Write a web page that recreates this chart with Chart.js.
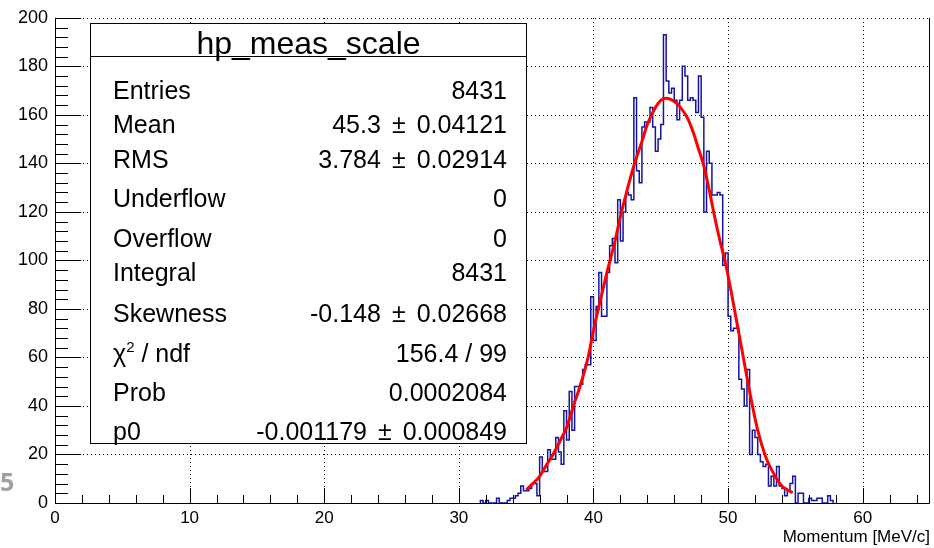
<!DOCTYPE html>
<html lang="en">
<head>
<meta charset="UTF-8">
<title>hp_meas_scale</title>
<script src="https://cdn.jsdelivr.net/npm/chart.js@4.4.1/dist/chart.umd.min.js"></script>
<style>
    * { margin: 0; padding: 0; box-sizing: border-box; }
    body { background: #fff; width: 934px; height: 548px; overflow: hidden; font-family: 'Liberation Sans', Arial, sans-serif; color: #000; }
    .wrap { position: relative; width: 934px; height: 548px; }
    canvas { position: absolute; left: 0; top: 0; }
    .stats { position: absolute; left: 90px; top: 23px; width: 437px; height: 421px; border: 1px solid #000; background: #fff; font-size: 25px; }
    .stats .title { position: absolute; left: 0; right: 0; top: 0; height: 33px; border-bottom: 1px solid #000; text-align: center; font-size: 32px; line-height: 38px; }
    .stats .row { position: absolute; left: 22px; right: 19px; height: 30px; line-height: 30px; display: flex; justify-content: space-between; white-space: nowrap; }
    .stats .pm { margin: 0 11px; }
    .stats sup { font-size: 15px; vertical-align: 10px; line-height: 0; }
    .page-num { position: absolute; left: 0; top: 464px; font: bold 25px 'Open Sans', sans-serif; color: #a0a0a0; }
</style>
</head>
<body>
<div class="wrap">
    <canvas id="hist" width="934" height="548"></canvas>
    <div class="page-num">5</div>
    <div class="stats" id="stats">
        <div class="title">hp_meas_scale</div>
    </div>
</div>
<script>
    // histogram: 0.2 wide bins, first listed bin starts at 31.6
    const binStart = 31.6;
    const binWidth = 0.2;
    const counts = [
        1, 0, 1, 0, 0, 0, 2, 0, 0, 0,            // 31.6
        1, 2, 2, 3, 4, 7, 5, 5, 6, 8,            // 33.6
        8, 3, 19, 13, 13, 22, 18, 18, 27, 21,    // 35.6
        16, 38, 26, 46, 30, 48, 48, 49, 55, 57,  // 37.6
        57, 85, 67, 81, 95, 77, 77, 95, 106, 109,        // 39.6
        99, 125, 108, 120, 128, 127, 125, 167, 137, 132, // 41.6
        155, 157, 157, 163, 155, 145, 150, 156, 193, 174,// 43.6
        169, 171, 166, 158, 166, 180, 176, 166, 167, 166,// 45.6
        161, 176, 159, 120, 145, 140, 127, 127, 128, 127,// 47.6
        98, 103, 77, 71, 72, 72, 51, 47, 40, 55, // 49.6
        20, 30, 27, 20, 17, 15, 16, 7, 11, 7,    // 51.6
        15, 7, 6, 3, 5, 8, 11, 0, 4, 4,          // 53.6
        0, 0, 2, 1, 1, 2, 2, 0, 0, 3,            // 55.6
        1                                        // 57.6
    ];

    // fit curve
    const fitX = [35.0, 35.6, 36.0, 36.6, 37.0, 37.6, 38.0, 38.6, 39.0, 39.6, 40.0, 40.4, 41.0, 41.6,
                  42.0, 42.6, 43.0, 43.6, 44.0, 44.6, 45.0, 45.4, 46.0, 46.4, 47.0, 47.4, 47.8, 48.2,
                  48.6, 49.0, 49.4, 49.8, 50.2, 50.6, 51.0, 51.6, 52.2, 52.8, 53.4, 54.0, 54.4, 54.8];
    const fitY = [5.5, 8.5, 11, 16.5, 20, 26.5, 31, 41.5, 48, 60, 71, 81, 95, 108,
                  118, 131, 139, 149, 156, 163, 166, 166.8, 165.5, 163.5, 158.5, 153, 146, 139,
                  129, 118, 108, 99, 88, 76, 64, 46, 30, 19, 12, 7, 5.5, 4.2];

    const xGridValues = [10, 20, 30, 40, 50, 60];
    const yGridValues = [20, 40, 60, 80, 100, 120, 140, 160, 180, 200];

    const statLabels = ['Entries', 'Mean', 'RMS', 'Underflow', 'Overflow', 'Integral', 'Skewness', 'χ<sup>2</sup> / ndf', 'Prob', 'p0'];
    const statValues = ['8431', '45.3 ± 0.04121', '3.784 ± 0.02914', '0', '0', '8431', '-0.148 ± 0.02668', '156.4 / 99', '0.0002084', '-0.001179 ± 0.000849'];
    const statRowCenter = [89, 123, 158, 197, 237, 271, 312, 352, 391, 430];

    // stats box
    const box = document.getElementById('stats');
    statLabels.forEach((lab, i) => {
        const row = document.createElement('div');
        row.className = 'row';
        row.style.top = (statRowCenter[i] - 23 - 15) + 'px';
        const val = statValues[i].replace(' ± ', '<span class="pm">±</span>');
        row.innerHTML = '<span>' + lab + '</span><span>' + val + '</span>';
        box.appendChild(row);
    });

    // step outline points
    const histPoints = counts.map((c, i) => ({ x: binStart + i * binWidth, y: c }));
    histPoints.unshift({ x: binStart, y: 0 });
    histPoints.push({ x: binStart + counts.length * binWidth, y: 0 });

    const fitPoints = fitX.map((x, i) => ({ x: x, y: fitY[i] }));

    // ROOT style dotted grid, frame and inside ticks
    const rootFrame = {
        id: 'rootFrame',
        beforeDatasetsDraw(chart) {
            const { ctx, chartArea: a, scales: { x, y } } = chart;
            ctx.save();
            ctx.strokeStyle = '#000';
            ctx.lineWidth = 1;
            ctx.setLineDash([1, 3]);
            ctx.beginPath();
            xGridValues.forEach(v => {
                const px = Math.round(x.getPixelForValue(v)) + 0.5;
                ctx.moveTo(px, a.bottom);
                ctx.lineTo(px, a.top);
            });
            yGridValues.forEach(v => {
                const py = Math.round(y.getPixelForValue(v)) + 0.5;
                ctx.moveTo(a.left, py);
                ctx.lineTo(a.right, py);
            });
            ctx.stroke();
            ctx.restore();
        },
        afterDatasetsDraw(chart) {
            const { ctx, chartArea: a, scales: { x, y } } = chart;
            ctx.save();
            ctx.strokeStyle = '#000';
            ctx.lineWidth = 1;
            ctx.beginPath();
            ctx.moveTo(a.left + 0.5, a.top);
            ctx.lineTo(a.left + 0.5, a.bottom + 0.5);
            ctx.lineTo(a.right - 0.5, a.bottom + 0.5);
            ctx.lineTo(a.right - 0.5, a.top);
            for (let v = 0; v <= 200; v += 4) {
                const py = Math.round(y.getPixelForValue(v)) + 0.5;
                ctx.moveTo(a.left, py);
                ctx.lineTo(a.left + (v % 20 === 0 ? 26 : 13), py);
            }
            for (let v = 0; v <= 64; v += 2) {
                const px = Math.round(x.getPixelForValue(v)) + 0.5;
                ctx.moveTo(px, a.bottom);
                ctx.lineTo(px, a.bottom - (v % 10 === 0 ? 15 : 8));
            }
            ctx.stroke();
            ctx.restore();
        }
    };

    new Chart(document.getElementById('hist'), {
        type: 'scatter',
        data: {
            datasets: [
                {
                    label: 'hp_meas_scale',
                    data: histPoints,
                    showLine: true,
                    stepped: true,
                    borderColor: '#1414a0',
                    borderWidth: 1.5,
                    pointRadius: 0,
                    fill: false,
                    order: 2
                },
                {
                    label: 'fit',
                    data: fitPoints,
                    showLine: true,
                    cubicInterpolationMode: 'monotone',
                    borderColor: '#ff0000',
                    borderWidth: 3,
                    pointRadius: 0,
                    fill: false,
                    order: 1
                }
            ]
        },
        options: {
            responsive: false,
            animation: false,
            devicePixelRatio: 1,
            layout: { padding: { top: 15, right: 4, left: 0, bottom: 0 } },
            plugins: {
                legend: { display: false },
                tooltip: { enabled: false }
            },
            scales: {
                x: {
                    type: 'linear',
                    min: 0,
                    max: 65,
                    afterFit(scale) { scale.height = 45; },
                    ticks: {
                        stepSize: 10,
                        includeBounds: false,
                        color: '#000',
                        padding: 5,
                        maxRotation: 0,
                        font: { family: "'Liberation Sans', Arial, sans-serif", size: 17 }
                    },
                    grid: { display: false, drawTicks: false },
                    border: { display: false },
                    title: {
                        display: true,
                        text: 'Momentum [MeV/c]',
                        align: 'end',
                        color: '#000',
                        padding: { top: 0, bottom: 0 },
                        font: { family: "'Liberation Sans', Arial, sans-serif", size: 17 }
                    }
                },
                y: {
                    min: 0,
                    max: 200,
                    afterFit(scale) { scale.width = 55; },
                    ticks: {
                        stepSize: 20,
                        color: '#000',
                        padding: 7,
                        font: { family: "'Liberation Sans', Arial, sans-serif", size: 18 }
                    },
                    grid: { display: false, drawTicks: false },
                    border: { display: false }
                }
            }
        },
        plugins: [rootFrame]
    });
</script>
</body>
</html>
